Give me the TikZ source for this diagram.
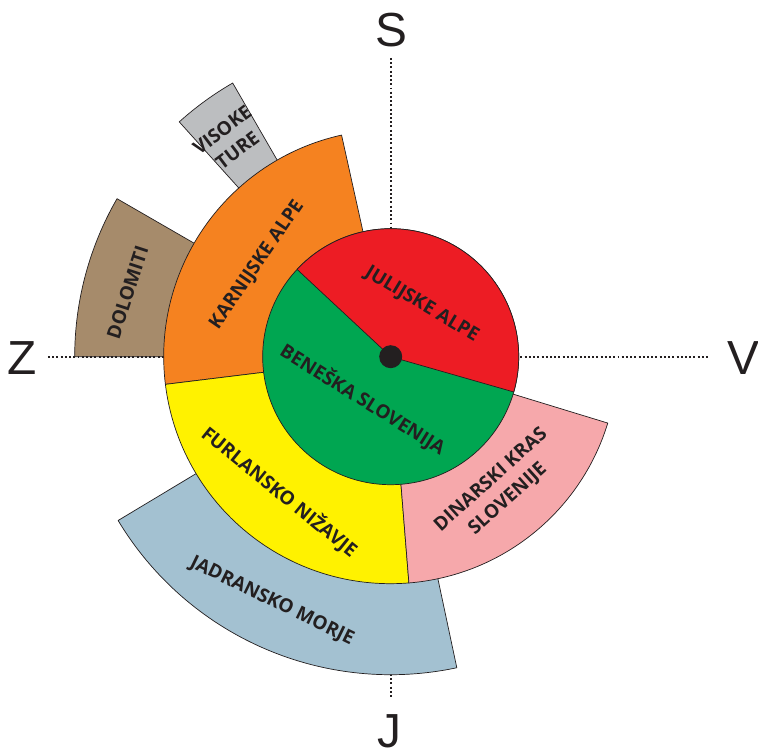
\documentclass[tikz,border=0pt]{standalone}
\usepackage{fontspec}
\setmainfont{Open Sans}
\newfontfamily\kompas{Liberation Sans}
\definecolor{temna}{HTML}{231F20}
\definecolor{rdeca}{HTML}{ED1C24}
\definecolor{zelena}{HTML}{00A651}
\definecolor{oranzna}{HTML}{F58220}
\definecolor{rumena}{HTML}{FFF200}
\definecolor{roza}{HTML}{F6A8AB}
\definecolor{modra}{HTML}{A3C1D1}
\definecolor{rjava}{HTML}{A68B6B}
\definecolor{siva}{HTML}{BCBEC0}
\begin{document}
\begin{tikzpicture}[x=.025cm,y=.025cm,line join=round,
    font=\fontsize{13.5}{18}\bfseries\selectfont,
    rob/.style={draw=temna,line width=.5pt},
    oznaka/.style={text=temna,inner sep=0pt,align=center},
    stran/.style={font=\kompas\fontsize{34}{34}\selectfont,text=temna,inner sep=0pt},
    pike/.style={draw=temna,line width=1.5pt,dash pattern=on 1.4pt off 1.6pt}]
    \useasboundingbox (-390.7,-392.3) rectangle (367.3,356.7);
    % strani neba
    \node[stran] (S) at (1,326.7) {S};
    \node[stran] (J) at (-1,-375) {J};
    \node[stran] (Z) at (-368.7,-1) {Z};
    \node[stran] (V) at (353,-1) {V};
    \coordinate (sK) at (0,298.7);
    \coordinate (jK) at (0,-340.3);
    \coordinate (zK) at (-342.7,0);
    \coordinate (vK) at (319.3,0);
    \draw[pike] (sK) -- (jK);
    % zunanji pas
    \draw[rob,fill=modra] (211:200) arc[start angle=211,end angle=282,radius=200]
        -- (282:318) arc[start angle=282,end angle=211,radius=318] -- cycle;
    \draw[rob,fill=rjava] (150:200) -- (150:316) arc[start angle=150,end angle=180,radius=316]
        -- (180:200);
    \draw[rob,fill=siva] (120:200) arc[start angle=120,end angle=132,radius=200]
        -- (132:316) arc[start angle=132,end angle=120,radius=316] -- cycle;
    \draw[pike] (zK) -- (vK);
    % srednji pas
    \draw[rob,fill=oranzna] (0,0) -- (102.5:227) arc[start angle=102.5,end angle=187,radius=227] -- cycle;
    \draw[rob,fill=rumena] (0,0) -- (187:227) arc[start angle=187,end angle=274.6,radius=227] -- cycle;
    \draw[rob,fill=roza] (0,0) -- (-85.4:227) arc[start angle=-85.4,end angle=-17,radius=227] -- cycle;
    % notranji krog
    \draw[rob,fill=zelena] (0,0) circle (128);
    \draw[rob,fill=rdeca] (0,0) -- (-16:128) arc[start angle=-16,end angle=137,radius=128] -- cycle;
    \fill[temna] (0,0) circle (11.5);
    % oznake
    \node[oznaka,rotate=-31] (julijske) at (59:60.5) {JULIJSKE ALPE};
    \node[oznaka,rotate=-32] (beneska) at (-123:51) {BENEŠKA SLOVENIJA};
    \node[oznaka,rotate=55.5] (karnijske) at (145.5:162) {KARNIJSKE ALPE};
    \node[oznaka,rotate=72] (dolomiti) at (166.3:271) {DOLOMITI};
    \node[oznaka,rotate=37] (ture) at (126.6:270) {VISOKE\\TURE};
    \node[oznaka,rotate=-39] (furlansko) at (-129.4:175) {FURLANSKO NIŽAVJE};
    \node[oznaka,rotate=-26] (jadransko) at (-115.9:272) {JADRANSKO MORJE};
    \node[oznaka,rotate=42] (dinarski) at (-50.7:172) {DINARSKI KRAS\\SLOVENIJE};
\end{tikzpicture}
\end{document}
